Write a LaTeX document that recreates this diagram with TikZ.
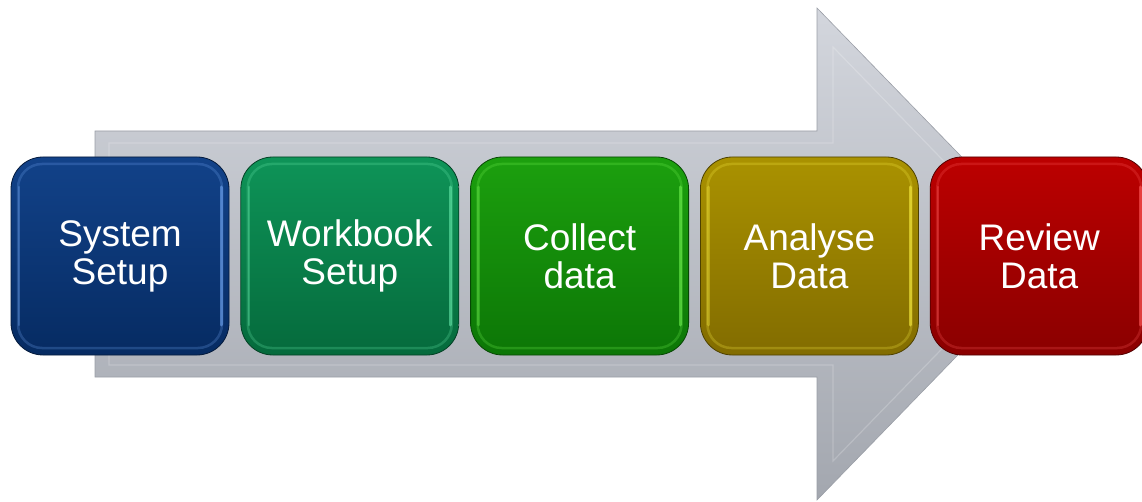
\documentclass[tikz,border=0pt]{standalone}
\usepackage{fontspec}
\setmainfont{Liberation Sans}
\usetikzlibrary{positioning}

\definecolor{arrowtop}{HTML}{D3D6DD}
\definecolor{arrowbot}{HTML}{A3A7AF}
\definecolor{arrowedge}{HTML}{9A9EA6}
\definecolor{systop}{HTML}{124289}
\definecolor{sysbot}{HTML}{062B62}
\definecolor{syshi}{HTML}{6FA4F0}
\definecolor{wbtop}{HTML}{0E9458}
\definecolor{wbbot}{HTML}{056A3C}
\definecolor{wbhi}{HTML}{66E8AA}
\definecolor{coltop}{HTML}{1CA00E}
\definecolor{colbot}{HTML}{0C7606}
\definecolor{colhi}{HTML}{70F050}
\definecolor{anatop}{HTML}{AA9200}
\definecolor{anabot}{HTML}{826C00}
\definecolor{anahi}{HTML}{F8EC40}
\definecolor{revtop}{HTML}{BC0000}
\definecolor{revbot}{HTML}{8A0000}
\definecolor{revhi}{HTML}{FF5A5A}

\tikzset{
  stepbox/.style n args={3}{
    rectangle, rounded corners=32pt,
    minimum width=218pt, minimum height=198pt,
    top color=#1, bottom color=#2, draw=#2!60!black, line width=0.8pt,
    text=white, align=center, font=\fontsize{37}{38}\selectfont,
    path picture={
      \draw[#3, line width=2.5pt, opacity=0.25, rounded corners=24pt]
        ([shift={(7pt,7pt)}]path picture bounding box.south west) rectangle
        ([shift={(-7pt,-7pt)}]path picture bounding box.north east);
      \draw[#3, line width=3pt, opacity=0.6, line cap=round]
        ([shift={(-8pt,-30pt)}]path picture bounding box.north east) --
        ([shift={(-8pt,30pt)}]path picture bounding box.south east);
      \draw[#3, line width=2.5pt, opacity=0.35, line cap=round]
        ([shift={(8pt,-30pt)}]path picture bounding box.north west) --
        ([shift={(8pt,30pt)}]path picture bounding box.south west);
    }
  },
}

\begin{document}
\begin{tikzpicture}[x=1pt, y=1pt]
\useasboundingbox (0,0) rectangle (1142,501);

% Big grey arrow
\shade[top color=arrowtop, bottom color=arrowbot, draw=arrowedge, line width=0.6pt]
  (95,370) -- (817,370) -- (817,493) -- (1056,247) -- (817,1) -- (817,124) -- (95,124) -- cycle;
\draw[white, opacity=0.2, line width=1.2pt]
  (109,358) -- (833,358) -- (833,454) -- (1034,247) -- (833,40) -- (833,136) -- (109,136) -- cycle;

% Steps
\node[stepbox={systop}{sysbot}{syshi}] (sys) at (120,245) {System\\Setup};
\node[stepbox={wbtop}{wbbot}{wbhi}, right=11pt of sys] (wb) {Workbook\\Setup};
\node[stepbox={coltop}{colbot}{colhi}, right=11pt of wb] (col) {Collect\\data};
\node[stepbox={anatop}{anabot}{anahi}, right=11pt of col] (ana) {Analyse\\Data};
\node[stepbox={revtop}{revbot}{revhi}, right=11pt of ana] (rev) {Review\\Data};

\end{tikzpicture}
\end{document}
